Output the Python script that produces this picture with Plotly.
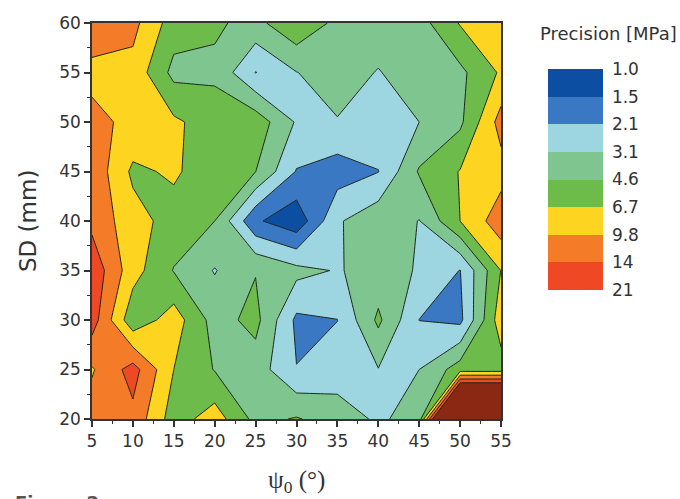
import numpy as np
import plotly.graph_objects as go

# ---- data ----
psi0 = [5, 10, 15, 20, 25, 30, 35, 40, 45, 50, 55]          # x, degrees
sd = [20, 25, 30, 35, 40, 45, 50, 55, 60]                    # y, mm

# Precision [MPa] on the grid, one list per SD row (bottom -> top)
prec_sd20 = [11.7, 12.7, 5.55, 8.11, 4.09, 4.74, 3.78, 2.92, 3.63, 1000, 1000]
prec_sd25 = [9.44, 16.5, 6.70, 4.51, 3.82, 2.12, 2.55, 3.06, 3.10, 5.55, 5.55]
prec_sd30 = [17.1, 5.15, 8.11, 3.93, 5.15, 1.96, 2.09, 4.96, 2.09, 1.93, 8.42]
prec_sd35 = [18.6, 7.80, 4.51, 3.03, 4.51, 3.49, 3.02, 3.55, 3.02, 2.08, 6.75]
prec_sd40 = [12.7, 7.80, 5.76, 4.60, 1.58, 1.13, 2.96, 4.06, 3.06, 6.70, 12.1]
prec_sd45 = [12.7, 6.22, 7.09, 5.35, 4.62, 2.06, 1.77, 2.08, 4.78, 6.83, 8.42]
prec_sd50 = [10.6, 9.09, 7.18, 5.55, 5.76, 2.98, 3.03, 2.76, 3.10, 4.25, 11.3]
prec_sd55 = [9.02, 8.65, 4.10, 4.27, 2.08, 3.07, 3.78, 3.03, 3.93, 4.20, 7.07]
prec_sd60 = [11.7, 10.9, 5.55, 4.85, 4.09, 6.24, 4.15, 3.93, 3.93, 6.88, 8.42]

levels = [1.0, 1.5, 2.1, 3.1, 4.6, 6.7, 9.8, 14, 21]
level_labels = ["1.0", "1.5", "2.1", "3.1", "4.6", "6.7", "9.8", "14", "21"]
band_colors = ["#0c4ea1", "#3a78c3", "#9dd6e0", "#7ec58f", "#6cbb4b",
               "#fdd520", "#f47b27", "#ee4825"]
above_color = "#8a2814"

# ---- map precision onto level-index space (contour levels are log-spaced) ----
P = np.array([prec_sd20, prec_sd25, prec_sd30, prec_sd35, prec_sd40,
              prec_sd45, prec_sd50, prec_sd55, prec_sd60], dtype=float)
logL = np.log10(levels)
logP = np.log10(P)
nlev = len(levels)
idx = np.interp(logP, logL, np.arange(nlev))
hi = logP > logL[-1]
idx[hi] = (nlev - 1) + (logP[hi] - logL[-1]) / (logL[-1] - logL[-2])

nb = len(band_colors)
fill_scale = []
for k, c in enumerate(band_colors):
    a = k / nb
    b = (k + 1) / nb if k < nb - 1 else 0.97
    fill_scale += [[a, c], [b, c]]
fill_scale += [[0.97, above_color], [1.0, above_color]]

cb_scale = []
for k, c in enumerate(band_colors[::-1]):
    cb_scale += [[k / nb, c], [(k + 1) / nb, c]]

fig = go.Figure()
fig.add_trace(go.Contour(
    x=psi0, y=sd, z=idx,
    colorscale=fill_scale,
    contours=dict(start=1, end=nlev - 1, size=1, coloring="fill"),
    line=dict(color="#1c261c", width=1, smoothing=0),
    showscale=False, hoverinfo="skip",
))
fig.add_trace(go.Scatter(
    x=[None], y=[None], mode="markers", showlegend=False, hoverinfo="skip",
    marker=dict(color=[0, nb], cmin=0, cmax=nb, colorscale=cb_scale, showscale=True,
                colorbar=dict(
                    xref="container", x=548 / 680, xanchor="left",
                    yref="container", y=1 - 87 / 499, yanchor="top",
                    xpad=0, ypad=0,
                    thicknessmode="pixels", thickness=55,
                    lenmode="pixels", len=221,
                    outlinewidth=0,
                    tickmode="array", tickvals=list(range(nlev)),
                    ticktext=level_labels[::-1],
                    ticks="outside", ticklen=6, tickcolor="rgba(0,0,0,0)",
                    tickfont=dict(family="DejaVu Sans", size=17, color="#333"),
                )),
))

axis_common = dict(
    showline=True, linecolor="#333", linewidth=1.5, mirror=True,
    ticks="outside", ticklen=6, tickwidth=1.5, tickcolor="#333",
    showgrid=False, zeroline=False,
    tickfont=dict(family="DejaVu Sans", size=17, color="#333"),
    minor=dict(ticks="outside", ticklen=3, tickwidth=1, tickcolor="#333", dtick=2.5),
)
fig.update_xaxes(range=[5, 55], dtick=5, tick0=5, **axis_common)
fig.update_yaxes(range=[20, 60], dtick=5, tick0=20, **axis_common)

fig.update_layout(
    width=680, height=499,
    margin=dict(l=92, r=179, t=23, b=80),
    paper_bgcolor="white", plot_bgcolor="white",
    annotations=[
        dict(text="Precision [MPa]", xref="paper", yref="paper",
             x=(538 - 92) / 409, y=(419 - 33) / 396, xanchor="left", yanchor="middle",
             showarrow=False, font=dict(family="DejaVu Sans", size=18, color="#333")),
        dict(text="SD (mm)", xref="paper", yref="paper",
             x=(28 - 92) / 409, y=0.5, textangle=-90, xanchor="center", yanchor="middle",
             showarrow=False, font=dict(family="DejaVu Sans", size=23, color="#333")),
        dict(text="ψ<sub>0</sub> (°)", xref="paper", yref="paper",
             x=0.5, y=(419 - 481) / 396, xanchor="center", yanchor="middle",
             showarrow=False, font=dict(family="Liberation Serif", size=25, color="#333")),
        dict(text="<b>Figure 2</b>", xref="paper", yref="paper",
             x=(13 - 92) / 409, y=(419 - 490) / 396, xanchor="left", yanchor="top",
             showarrow=False, font=dict(family="DejaVu Sans", size=18, color="#555")),
    ],
)

fig.write_html("out.html")
